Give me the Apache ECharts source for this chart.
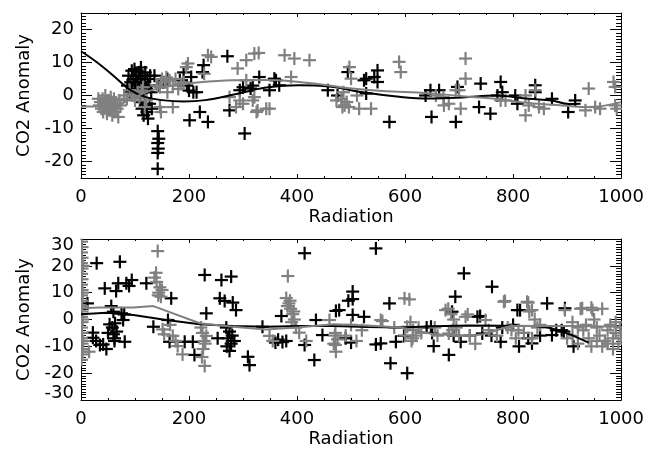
<!DOCTYPE html>
<html><head><meta charset="utf-8">
<script src="https://cdn.jsdelivr.net/npm/echarts@6/dist/echarts.min.js"></script>
<style>html,body{margin:0;padding:0;background:#fff}#c{width:647px;height:450px}</style>
</head><body><div id="c"></div>
<script>
// ---------- data ----------
const xLabelText = 'Radiation';
const yLabelText = 'CO2 Anomaly';
const xMin = 0, xMax = 1000, xStep = 200;
const topYMin = -25, topYMax = 25;
const topYTicks = [-20, -10, 0, 10, 20];
const botYMin = -30, botYMax = 30;
const botYTicks = [-30, -20, -10, 0, 10, 20, 30];

const topBlackPts = [[86,3],[88,6],[90,1],[92,4],[94,7.5],[95,2],[97,5],[99,8],[100,3],[102,6],[104,1],[105,4],[107,7],[108,2],[110,5],[111,8.5],[113,3],[114,6],[116,1],[118,4],[119,7],[121,2],[123,5],[125,3],[128,6],[130,1],
[110,-2],[113,-4],[116,-6],[119,-3],[122,-5],[124,-7],[127,-2.5],[131,-4],
[142,-10.8],[144,-13.1],[142,-14.4],[143,-16.1],[142,-17.4],[142,-22.2],
[136,6],[145,3],[152,4],[160,5],[183,4.6],[190,7],[196,3],[200,1.5],[204,5.6],[208,1],[214,1],[227,9.2],[225,7.1],[201,-7.5],[220,-5],[235,-8],[271,11.9],[275,-4.5],[303,-11.5],[294,1.6],[300,2.5],[314,2.1],[318,3],[330,5.6],[349,1.6],[358,5.1],[361,4.6],[367,3.1],[457,1.6],[475,0],[494,7.1],[524,4.6],[528,5.1],[549,7.6],[549,4.1],[543,5.6],[528,0.6],[571,-8],[638,0],[647,1.6],[649,-6.5],[663,1.6],[697,2.6],[694,-8],[740,3.6],[737,-3.5],[758,-5.5],[777,4.1],[771,0],[780,1],[804,0],[808,-2.5],[841,3.1],[841,1],[872,-1],[902,-5],[915,-1.5]];

const topGrayPts = [[32,-1],[34,-3],[36,-2],[38,-4],[40,-1],[41,-5],[43,-2.5],[45,0],[46,-3.5],[48,-5.5],[50,-1.5],[51,-3],[53,-4.5],[55,-0.5],[56,-2],[58,-6],[60,-3.5],[61,-1],[63,-5],[65,-2.5],[67,-4],[69,-6.5],[71,-1.5],[73,-3],
[80,0],[85,-1],[90,1.6],[95,0],[100,-1.5],[105,1],[108,-0.5],[112,1.5],[115,2.5],[118,-3.5],[121,-1.5],
[140,3],[146,2.5],[150,5],[155,4],[158,5.5],[164,4.6],[170,3],[175,5],[146,-3.5],[148,-5],[170,-3.5],[160,1],[180,2],[185,3.5],[190,4],[195,8.6],[198,9.7],[228,6.6],[235,12.2],[241,11.7],
[275,-0.5],[287,-3.5],[290,8.2],[294,-1.5],[300,-2.5],[306,10.7],[306,4.6],[318,-1.5],[321,12.7],[329,12.9],[327,-4.5],[343,-4],[321,-0.5],[325,-5],[349,-4],[377,12.2],[389,5.6],[395,11.2],[423,10.7],
[473,-1.5],[482,-1],[484,-3.5],[486,1],[488,-3],[492,-2],[496,-3.5],[497,8.6],[500,5.1],[511,0],[515,-4],[537,-4],[589,10.2],[592,7.1],
[657,0],[671,-0.5],[672,-3],[681,-2.5],[694,1.6],[700,1.6],[703,-4],[712,11.2],[712,5.1],[777,-1.5],[786,-1.5],[823,0],[823,-6],[829,-3],[841,1.6],[848,-3.5],[857,-4],[934,-4.5],[940,2.1],[952,-3.5],[961,-4],[986,4.1],[989,2.6],[989,-3],[992,-4]];

const topBlackFit = [[0,13.4],[30,10],[60,6],[90,1.8],[120,-0.5],[150,-1.4],[190,-1.8],[230,-1.4],[281,0.2],[343,2.4],[404,3.1],[460,2.7],[528,0.8],[589,-0.4],[644,-0.9],[706,-0.6],[768,0],[829,-1],[872,-1.5],[903,-2.6],[925,-2.5]];
const topGrayFit = [[0,-3.3],[40,-3.3],[70,-2.8],[96,-0.8],[127,1.4],[170,3],[220,4],[281,4.6],[343,4.7],[404,4.1],[460,3],[497,2.2],[558,1.4],[644,0.7],[706,-0.2],[768,-1],[829,-2.3],[891,-3],[940,-3.5],[1000,-2]];

const botBlackPts = [[12,6],[29,21],[72,21.5],[44,11.6],[69,13.5],[65,10.6],[84,13.5],[94,14.7],[89,12.5],[121,13.5],[167,7.9],[56,5],[60,2.9],[75,2.3],[80,1.9],[63,-1.4],[78,-0.2],[53,-1.8],[66,-4.5],[60,-5.5],[58,-3],[62,-7],[50,-5],[22,-4.9],[22,-6.8],[28,-8],[35,-9.5],[41,-9.3],[47,-11],[62,-8],[81,-8.3],[134,-2.7],[161,-0.2],[164,-8.3],[192,-8.3],[207,-8.3],[210,-13.2],
[229,16.6],[232,2.3],[253,-7],[260,14.7],[278,16],[257,7.9],[266,6.9],[281,6.3],[287,3.5],[269,-3],[275,-4.5],[280,-6],[272,-7],[278,-9],[284,-8],[270,-10],[275,-11.7],[309,-13.9],[312,-17],[336,-2.7],[371,1.3],[365,-7.5],[373,-8.4],[380,-8],[360,-8.6],[414,24.7],[435,-0.2],[447,-5.8],[432,-15.1],[414,-9.5],[472,3.2],
[478,3.5],[495,7],[503,10.4],[503,7.6],[503,1.7],[490,-7],[500,-8.6],[524,1],[546,26.5],[546,-9.3],[555,-8.9],[571,6],[573,-16.3],[583,-8.3],[598,-6.1],[604,-20],[640,-3],[648,-2.7],[650,-5],[653,-9.9],[681,-13.2],[687,2.9],[690,-6],[693,8.5],[703,-8.3],[709,17.2],[720,-6],[734,1],[739,1.3],[743,-5.2],[760,-6],[761,12.2],[777,-8.3],[780,-3],[800,-2],[808,3.5],[811,-10],[813,3.5],[828,-7],[835,-8.9],[850,-6],[863,6],[872,-5.8],[880,-4],[890,-4],[894,-4.5],[896,4.2],[912,-10]];

const botGrayPts = [[1,29],[2,27],[1,25],[2,23],[1,21],[2,19],[1,17],[2,15],[1,13],[2,11],[1,9],[2,7],[1,5],[2,3],[1,1],[2,-1],[1,-3],[2,-5],[1,-7],[2,-9],[1,-11],[2,-13],[1,-15],[3,-12],[4,-8],[3,0],[4,20],[3,10],[15,-12],
[142,25.5],[139,17.4],[136,15.6],[140,14],[146,12],[150,11],[144,10],[143,9],[148,8.5],[151,-3.7],[154,-5.5],[165,-2],[170,-6.1],[175,-8],[179,-9.9],[188,-13],
[222,-3],[225,-5],[228,-8],[230,-9],[226,-11],[224,-14],[229,-17.3],[232,-6.1],
[349,-6.1],[355,-8],[383,16.2],[380,8],[382,5],[385,6],[387,7],[388,4],[390,-1],[392,2],[394,3],[395,0],[398,-3],[404,-4.9],[417,-8],
[460,-0.2],[468,-9],[470,-6],[471,-5],[471,-9.5],[472,-12],[475,-7.4],[490,-6],[500,-2],[510,-8],[520,-4],[555,-0.2],[558,-0.6],[580,-3],[599,7.9],[600,-6],[604,-2.7],[608,7.5],[610,-1],[612,-8],[614,-7],[615,-4],[620,-6],[625,-3],[630,-5],[655,-3],[660,-6],
[675,3.5],[680,4],[681,-5.2],[685,2],[688,-4],[690,0],[695,-3],[700,-6],[712,1],[716,1.9],[720,-6],[730,-9],[749,-0.2],[755,-4],[770,-6],[783,6.6],[785,6.9],[790,-3],[797,-3.9],[805,-7],[810,-4],[820,-5],[826,6.6],[828,6.3],[830,3],[835,3.5],[835,-7],[840,0],[845,-3],[850,-2],[896,3.5],[900,-7],[910,-6],[920,-9],[925,4],[928,4.2],[930,-4],[940,-7],[945,4.4],[945,-10],[947,3.5],[950,0],[955,-3],[960,-6],[965,4],[965,-10],[970,-8],[975,-4],[980,-2],[985,-7],[985,-11],[990,-5],[995,-9],[998,-3],[1000,-6],[935,-2],[955,-8],[975,-9],[990,-1],[920,-3],[910,-1]];

const botBlackFit = [[0,2],[47,2.5],[97,1.7],[158,-0.2],[220,-1.8],[281,-2.4],[343,-2.7],[404,-2.4],[468,-2.4],[530,-2.8],[592,-3],[653,-2.5],[718,-2.2],[780,-2.3],[841,-2.4],[872,-3.3],[909,-5.8],[940,-8.6]];
const botGrayFit = [[0,4.2],[35,4.5],[97,4.5],[134,5],[220,-1.4],[281,-2.7],[343,-3.7],[404,-2.9],[468,-1.8],[530,-2.2],[592,-3],[653,-5.5],[716,-6.1],[746,-5.5],[795,-2.4],[857,-2.4],[918,-2.4],[1000,-2.7]];

// ---------- styling ----------
const BLACK = '#000000', GRAY = '#808080';
const FONT = 'DejaVu Sans', FS = 18;
const txt = {color: '#000', fontFamily: FONT, fontSize: FS};

function xAx(grid, pos, main) {
  return {
    type: 'value', gridIndex: grid, position: pos, min: xMin, max: xMax, interval: xStep,
    axisLine: {show: true, onZero: false, lineStyle: {color: '#000', width: 1}},
    axisTick: {show: true, inside: true, length: 4, lineStyle: {color: '#000', width: 1}},
    minorTick: {show: true, splitNumber: 4, length: 2, lineStyle: {color: '#000', width: 1}},
    splitLine: {show: false}, minorSplitLine: {show: false},
    axisLabel: Object.assign({show: main, margin: 10, formatter: function (v) { return String(v); }}, txt),
    name: main ? xLabelText : '', nameLocation: 'middle', nameGap: 30,
    nameTextStyle: txt
  };
}
function yMajor(grid, pos, mn, mx, ticks, main) {
  return {
    type: 'value', gridIndex: grid, position: pos, min: mn, max: mx, interval: 1,
    axisLine: {show: true, onZero: false, lineStyle: {color: '#000', width: 1}},
    axisTick: {show: true, inside: true, length: 11, customValues: ticks, lineStyle: {color: '#000', width: 1}},
    splitLine: {show: false},
    axisLabel: Object.assign({
      show: main, margin: 7, customValues: ticks,
      formatter: function (v) {
        if (v === botYMax && mx === botYMax) return '{hi|' + v + '}';
        if (v === botYMin && mn === botYMin) return '{lo|' + v + '}';
        return String(v);
      },
      rich: {
        hi: Object.assign({padding: [12, 0, 0, 0]}, txt),
        lo: Object.assign({padding: [0, 0, 13, 0]}, txt)
      }
    }, txt),
    name: main ? yLabelText : '', nameLocation: 'middle', nameGap: 48, nameRotate: 90,
    nameTextStyle: txt
  };
}
function yMinor(grid, pos, mn, mx) {
  return {
    type: 'value', gridIndex: grid, position: pos, min: mn, max: mx, interval: 1,
    axisLine: {show: false, onZero: false},
    axisTick: {show: true, inside: true, length: 5, lineStyle: {color: '#000', width: 1}},
    splitLine: {show: false}, axisLabel: {show: false}
  };
}
function plus(color) {
  return function (params, api) {
    const p = api.coord([api.value(0), api.value(1)]);
    const h = 6.5, w = 1.1;
    return {type: 'group', children: [
      {type: 'rect', shape: {x: p[0] - h, y: p[1] - w, width: 2 * h, height: 2 * w}, style: {fill: color}},
      {type: 'rect', shape: {x: p[0] - w, y: p[1] - h, width: 2 * w, height: 2 * h}, style: {fill: color}}
    ]};
  };
}
function pts(data, color, xi, yi) {
  return {type: 'custom', xAxisIndex: xi, yAxisIndex: yi, data: data, encode: {x: 0, y: 1},
    renderItem: plus(color), clip: true, silent: true};
}
function fit(data, color, xi, yi, smooth) {
  return {type: 'line', xAxisIndex: xi, yAxisIndex: yi, data: data, smooth: smooth, symbol: 'none',
    showSymbol: false, lineStyle: {color: color, width: 2}, clip: true, silent: true};
}

const chart = echarts.init(document.getElementById('c'), null, {renderer: 'canvas'});
chart.setOption({
  animation: false,
  backgroundColor: '#ffffff',
  grid: [
    {left: 81, top: 13, width: 542, height: 165},
    {left: 81, top: 239, width: 542, height: 161}
  ],
  xAxis: [xAx(0, 'bottom', true), xAx(0, 'top', false), xAx(1, 'bottom', true), xAx(1, 'top', false)],
  yAxis: [
    yMajor(0, 'left', topYMin, topYMax, topYTicks, true), yMinor(0, 'left', topYMin, topYMax),
    yMajor(0, 'right', topYMin, topYMax, topYTicks, false), yMinor(0, 'right', topYMin, topYMax),
    yMajor(1, 'left', botYMin, botYMax, botYTicks, true), yMinor(1, 'left', botYMin, botYMax),
    yMajor(1, 'right', botYMin, botYMax, botYTicks, false), yMinor(1, 'right', botYMin, botYMax)
  ],
  series: [
    pts(topBlackPts, BLACK, 0, 0),
    pts(topGrayPts, GRAY, 0, 0),
    fit(topBlackFit, BLACK, 0, 0, 0.4),
    fit(topGrayFit, GRAY, 0, 0, 0.4),
    pts(botBlackPts, BLACK, 2, 4),
    pts(botGrayPts, GRAY, 2, 4),
    fit(botBlackFit, BLACK, 2, 4, false),
    fit(botGrayFit, GRAY, 2, 4, false)
  ]
});
</script></body></html>
